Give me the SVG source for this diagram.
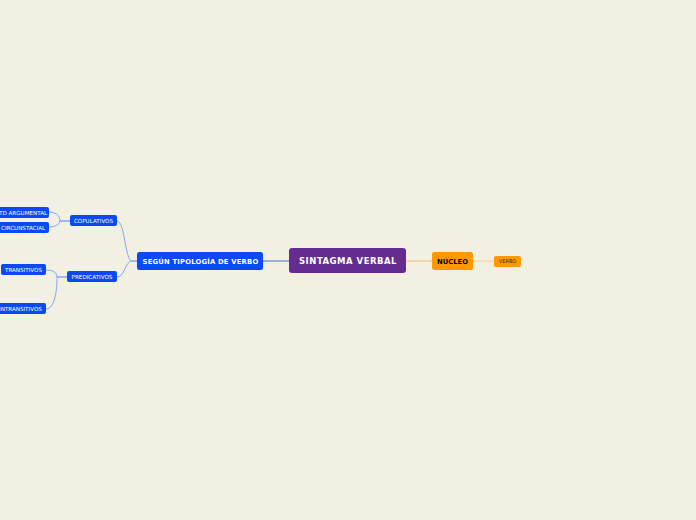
<svg xmlns="http://www.w3.org/2000/svg" width="696" height="520" viewBox="0 0 696 520">
<style>
.n{fill:#0b49f7}
.t{font-family:"DejaVu Sans",Verdana,sans-serif;fill:#fff}
.s{font-size:5.6px}
.c{fill:none;stroke:#86a5f2;stroke-width:1}
</style>
<rect width="696" height="520" fill="#f2efe3"/>
<g id="connectors">
<path d="M263 261H289" stroke="#4a68c8" stroke-width="1" fill="none"/>
<path d="M406 261H432" stroke="#f6b870" stroke-width="1" fill="none"/>
<path d="M473 261H494" stroke="#f6cf98" stroke-width="1" fill="none"/>
<path class="c" d="M137 261H132C125 261 125 221 117 221"/>
<path class="c" d="M137 261H132C125 261 125 277 117 277"/>
<path class="c" d="M70 221H60C60 215 55 212 49 212"/>
<path class="c" d="M70 221H60C60 224 55 227 49 227"/>
<path class="c" d="M67 277H57C57 272 52 270 46 270"/>
<path class="c" d="M67 277H57C57 290 55 309 46 309"/>
</g>
<g id="sintagma">
<rect x="289" y="248" width="117" height="25" rx="3" fill="#652c8f"/>
<text class="t" x="348" y="264" text-anchor="middle" font-size="8.5" font-weight="bold" letter-spacing="0.5">SINTAGMA VERBAL</text>
</g>
<g id="nucleo">
<rect x="432" y="252" width="41" height="18" rx="2.5" fill="#ff9900"/>
<text x="452.5" y="264" text-anchor="middle" font-family="DejaVu Sans,sans-serif" font-size="6.8" font-weight="bold" fill="#000">NÚCLEO</text>
</g>
<g id="verbo">
<rect x="494" y="256" width="27" height="11" rx="2" fill="#ff9900"/>
<text x="507.5" y="263.3" text-anchor="middle" font-family="DejaVu Sans,sans-serif" font-size="5" fill="#333">VERBO</text>
</g>
<g id="segun">
<rect class="n" x="137" y="252" width="126" height="18" rx="2.5"/>
<text class="t" x="200.5" y="263.5" text-anchor="middle" font-size="6.8" font-weight="bold" letter-spacing="0.2">SEGÚN TIPOLOGÍA DE VERBO</text>
</g>
<g id="copulativos">
<rect class="n" x="70" y="215" width="47" height="11" rx="2"/>
<text class="t s" x="93.5" y="222.8" text-anchor="middle">COPULATIVOS</text>
</g>
<g id="predicativos">
<rect class="n" x="67" y="271" width="50" height="11" rx="2"/>
<text class="t s" x="92" y="278.8" text-anchor="middle">PREDICATIVOS</text>
</g>
<g id="argumental">
<rect class="n" x="-10" y="207" width="59" height="11" rx="2"/>
<text class="t s" x="-1" y="214.8">TD ARGUMENTAL</text>
</g>
<g id="circunstacial">
<rect class="n" x="-10" y="222" width="59" height="11" rx="2"/>
<text class="t s" x="1" y="229.8">CIRCUNSTACIAL</text>
</g>
<g id="transitivos">
<rect class="n" x="1" y="264" width="45" height="11" rx="2"/>
<text class="t s" x="23.5" y="271.8" text-anchor="middle">TRANSITIVOS</text>
</g>
<g id="intransitivos">
<rect class="n" x="-10" y="303" width="56" height="11" rx="2"/>
<text class="t s" x="-1" y="310.8">INTRANSITIVOS</text>
</g>
</svg>
